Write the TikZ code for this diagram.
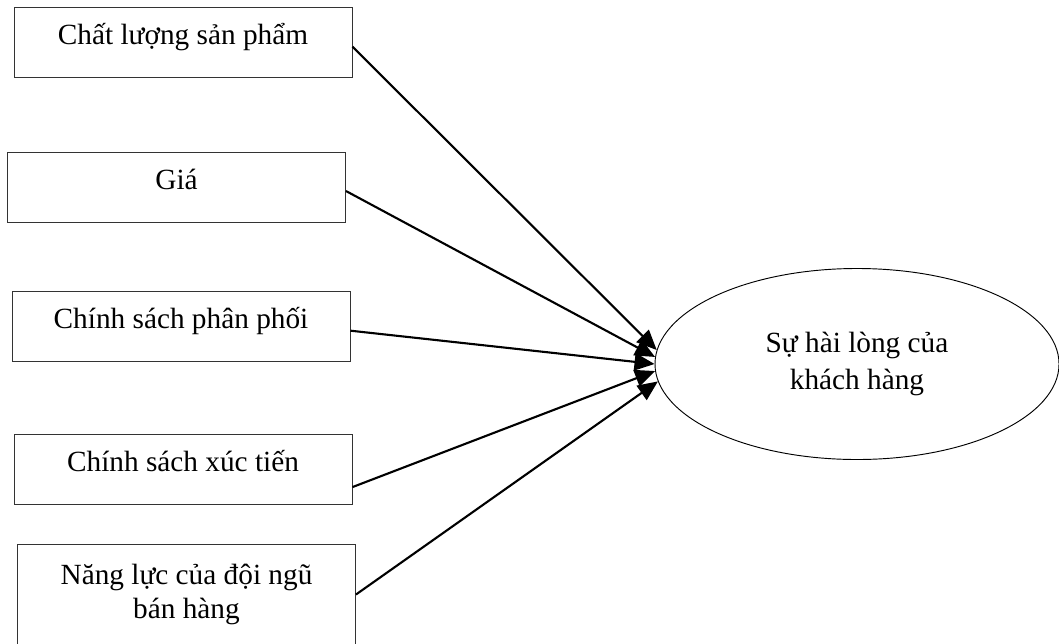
\documentclass[tikz,border=0pt]{standalone}
\usepackage{fontspec}
\setmainfont{Liberation Serif}
\usetikzlibrary{shapes.geometric,arrows.meta}

\begin{document}
\begin{tikzpicture}[x=0.015cm,y=-0.015cm,
  factor/.style={draw=black!80,minimum width=5.07cm,minimum height=1.05cm,align=center,
    text depth=0.7em,font=\fontsize{12.5}{14.5}\selectfont},
  link/.style={-{Triangle[length=3mm,width=2.6mm]},line width=0.9pt}]
  \useasboundingbox (0,0) rectangle (1059,643);
  \node[factor] (chatluong) at (183,42) {Chất lượng sản phẩm};
  \node[factor] (gia) at (176.5,187.5) {Giá};
  \node[factor] (phanphoi) at (181,326) {Chính sách phân phối};
  \node[factor] (xuctien) at (183,469.5) {Chính sách xúc tiến};
  \node[factor,minimum height=1.515cm,text depth=0.25em] (nangluc) at (186.5,594.5) {Năng lực của đội ngũ\\bán hàng};
  \node[draw,ellipse,thin,minimum width=6.06cm,minimum height=2.865cm,align=center,
    font=\fontsize{12.5}{15.5}\selectfont] (hailong) at (857,364) {Sự hài lòng của\\khách hàng};
  \draw[link] ([yshift=-2pt]chatluong.east) -- (hailong.176);
  \draw[link] ([yshift=-1.5pt]gia.east) -- (hailong.178);
  \draw[link] ([yshift=-2pt]phanphoi.east) -- (hailong.180);
  \draw[link] ([yshift=-7.5pt]xuctien.east) -- (hailong.182.5);
  \draw[link] (nangluc.east) -- (hailong.185.5);
\end{tikzpicture}
\end{document}
